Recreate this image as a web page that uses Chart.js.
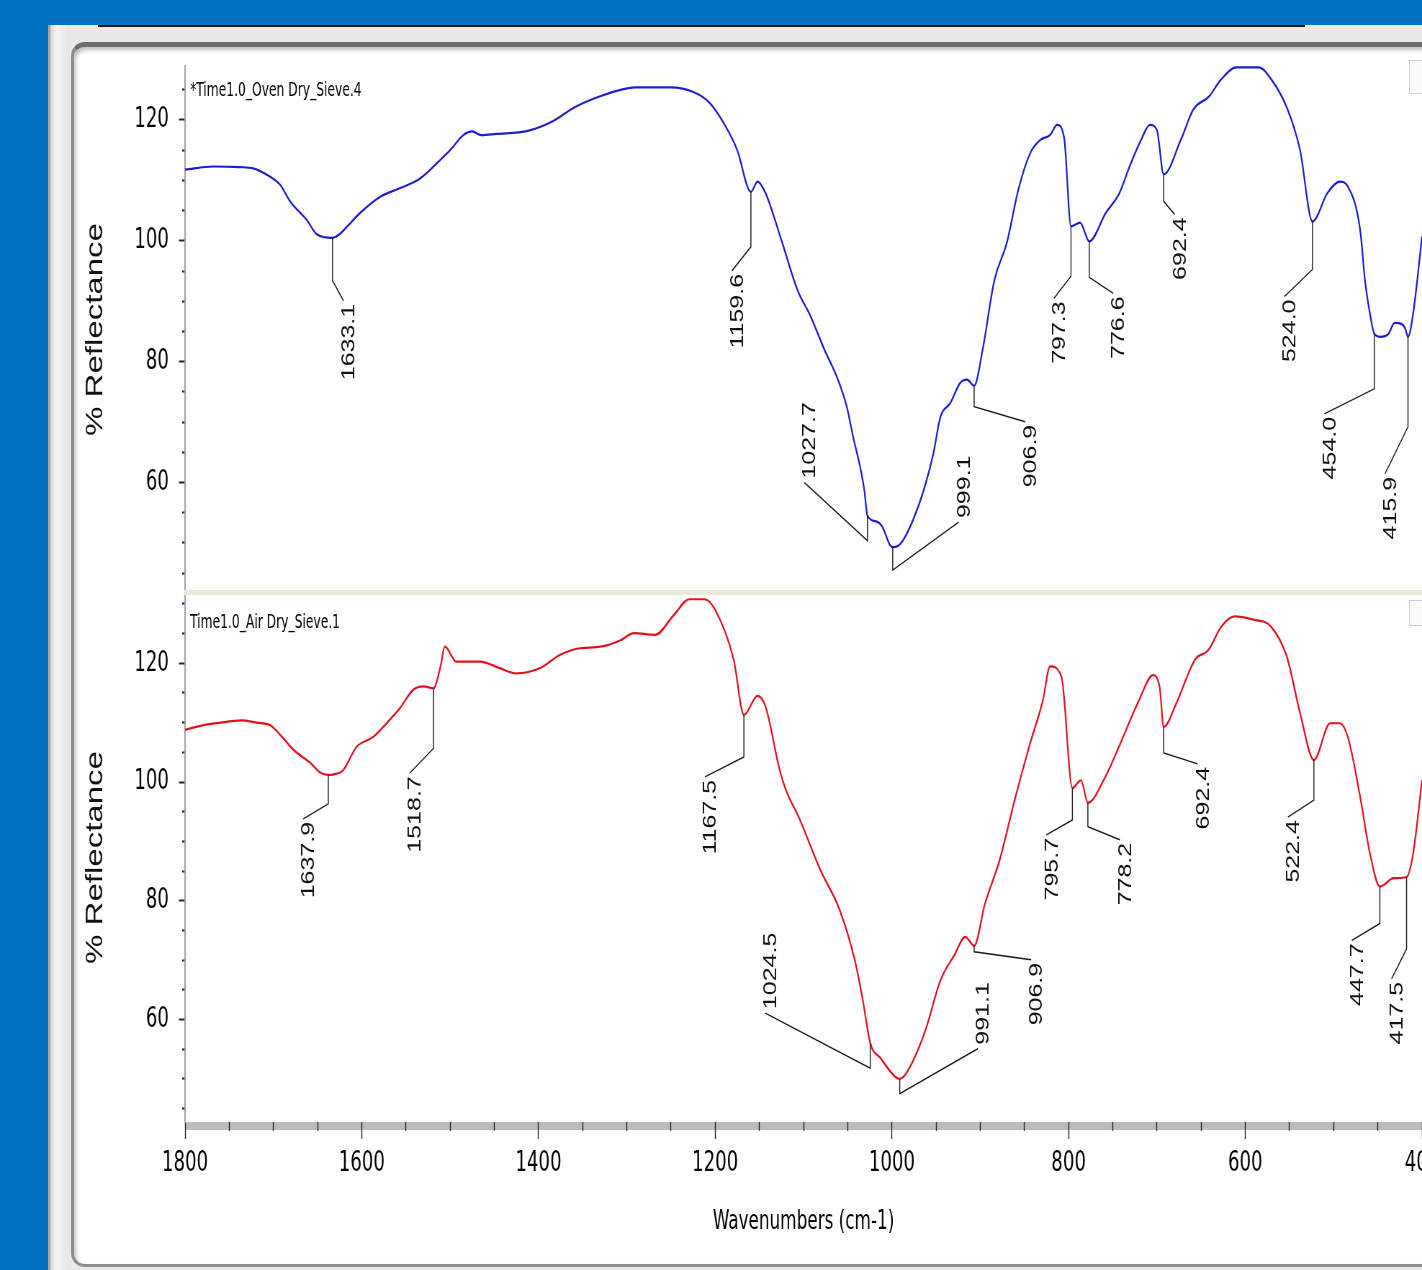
<!DOCTYPE html>
<html>
<head>
<meta charset="utf-8">
<title>Reflectance spectra</title>
<script src="https://cdn.jsdelivr.net/npm/chart.js@4.4.1/dist/chart.umd.min.js"></script>
<style>
  html, body { margin: 0; padding: 0; }
  body { width: 1422px; height: 1270px; overflow: hidden; background: #0070c0; position: relative; }
  .frame { position: absolute; left: 48px; top: 25px; width: 1420px; height: 1260px;
    background: linear-gradient(to right, #a3a3a3 0px, #a3a3a3 2px, #d9d9d9 3px, #f5f5f5 9px, #e6e6e6 20px, #e9e9e9 24px); }
  .topline { position: absolute; left: 98px; top: 25px; width: 1207px; height: 2px; background: #111; }
  .panel { position: absolute; left: 71px; top: 42px; width: 1420px; height: 1217px; background: #fff;
    border: 3px solid #8d8d8d; border-top: 5px solid #6c6c6c; border-radius: 14px 0 0 14px;
    box-shadow: inset 2px 3px 4px rgba(0,0,0,0.25); }
  .mini { position: absolute; left: 1409px; width: 20px; border: 1px solid #cfcfcf; background: #fbfbfb; }
  .wrap { position: absolute; left: 0; top: 30px; width: 2028px; height: 1220px;
    transform: scaleX(0.72); transform-origin: 0 0; }
</style>
</head>
<body>
<div class="frame"></div>
<div class="topline"></div>
<div class="panel"></div>
<div class="mini" style="top:60px;height:32px"></div>
<div class="mini" style="top:600px;height:24px"></div>
<div class="wrap"><canvas id="spec" width="2028" height="1220"></canvas></div>

<script>
/* ===== Datos: espectro superior (azul) ===== */
const nameTop = '*Time1.0_Oven Dry_Sieve.4';
const wnTop = [1800, 1768, 1738, 1723, 1707, 1692, 1681, 1662, 1651, 1633.1, 1626, 1617, 1602, 1579, 1557, 1534,
  1511, 1500, 1485, 1475, 1465, 1448, 1412, 1385, 1358, 1331, 1304, 1291, 1251, 1224, 1206, 1188, 1175, 1159.6,
  1152, 1143, 1125, 1107, 1092, 1077, 1061, 1051, 1044, 1036, 1031, 1027.7, 1017, 1011, 1002, 999.1, 994, 987,
  976, 964, 953, 945, 934, 923, 915, 906.9, 897, 884, 870, 857, 843.5, 832, 821, 813, 805, 797.3, 787, 776.6,
  758, 742.5, 731, 718, 708, 700, 692.4, 673, 659, 641, 628, 610, 585, 570, 552, 538, 524.0, 507, 493, 484,
  470, 464.6, 459, 454.0, 447, 438, 431, 423, 419, 415.9, 410, 400];
const reflTop = [111.8, 112.3, 112.2, 112.0, 110.9, 109.2, 106.5, 103.4, 101.1, 100.5, 101.0, 102.3, 104.6, 107.3, 108.7, 110.3,
  113.4, 115.0, 117.5, 118.1, 117.5, 117.7, 118.2, 119.7, 122.2, 123.9, 125.1, 125.4, 125.4, 124.6, 122.8, 118.9, 115.0, 108.1,
  109.8, 107.9, 100.1, 91.9, 87.5, 82.2, 77.0, 72.5, 67.6, 62.6, 58.5, 54.5, 53.5, 52.7, 49.6, 49.3, 49.4, 50.5,
  53.8, 58.7, 64.8, 70.9, 73.1, 76.4, 77.0, 76.0, 82.2, 93.5, 99.6, 108.4, 114.5, 116.7, 117.5, 119.2, 117.0, 102.4, 103.0, 99.9,
  104.6, 107.9, 112.3, 116.7, 119.2, 118.3, 111.0, 116.7, 121.7, 123.9, 126.6, 128.7, 128.7, 126.6, 121.7, 115.0, 103.2, 107.9, 109.8, 109.0,
  101.8, 93.5, 88.0, 84.6, 84.1, 84.6, 86.4, 86.2, 85.5, 84.1, 88.0, 100.7];
const peaksTop = [1633.1, 1159.6, 1027.7, 999.1, 906.9, 797.3, 776.6, 692.4, 524.0, 454.0, 415.9];

/* ===== Datos: espectro inferior (rojo) ===== */
const nameBot = 'Time1.0_Air Dry_Sieve.1';
const wnBot = [1800, 1779, 1760, 1736, 1719, 1704, 1692, 1677, 1658, 1647, 1637.9, 1632, 1621, 1606, 1587, 1572,
  1557, 1542, 1530, 1518.7, 1511, 1506, 1493, 1466, 1444, 1425, 1398, 1376, 1355, 1330, 1307, 1292, 1268, 1247,
  1229, 1212, 1200, 1179, 1167.5, 1152, 1143, 1127, 1120, 1104, 1081, 1059, 1042, 1033, 1024.5, 1013, 996, 991.1,
  987, 977, 962, 945, 929, 917, 906.9, 895, 878, 861, 844, 829, 821, 808, 795.7, 786, 778.2, 759, 742, 720,
  704.5, 697, 692.4, 678, 657, 642, 627, 612, 592, 571, 553, 538, 522.4, 504, 493, 484, 470, 459, 447.7, 432,
  417.5, 410, 400];
const reflBot = [108.8, 109.6, 110.0, 110.4, 110.0, 109.6, 107.9, 105.4, 103.2, 101.6, 101.2, 101.3, 102.0, 105.9, 107.6, 109.9,
  112.4, 115.5, 116.1, 115.8, 119.4, 122.8, 120.3, 120.3, 119.2, 118.3, 119.2, 121.4, 122.5, 122.8, 123.9, 125.1, 124.8, 128.1,
  130.8, 130.8, 129.0, 120.6, 111.3, 114.5, 112.7, 102.0, 98.7, 93.6, 85.2, 78.4, 70.0, 63.3, 56.0, 53.5, 50.3, 50.0,
  50.3, 52.7, 58.2, 66.6, 70.9, 73.9, 72.4, 79.3, 86.9, 97.0, 106.3, 113.8, 119.5, 117.7, 99.0, 100.3, 96.5, 100.7, 106.3, 113.9,
  118.0, 116.0, 109.3, 113.3, 120.6, 122.2, 126.2, 127.9, 127.4, 126.2, 121.1, 111.6, 103.7, 109.9, 109.9, 107.6, 97.5, 88.0, 82.4, 83.8,
  84.0, 88.0, 100.3];
const peaksBot = [1637.9, 1518.7, 1167.5, 1024.5, 991.1, 906.9, 795.7, 778.2, 692.4, 522.4, 447.7, 417.5];

/* ===== Ejes ===== */
const xRange = [400, 1800];
const xLabelVals = [1800, 1600, 1400, 1200, 1000, 800, 600, 400];
const yRangeTop = [41.69, 128.94];
const yRangeBot = [42.71, 131.85];
const yLabelVals = [60, 80, 100, 120];
const steps = (a, b, s) => { const out = []; for (let v = a; v <= b; v += s) out.push(v); return out; };
const xTickVals = steps(400, 1800, 50);
const yTickValsTop = steps(45, 125, 5);
const yTickValsBot = steps(45, 130, 5);

/* ===== Maquetado de las etiquetas de picos (px de pantalla) ===== */
// [largo vertical, dx, dy] del quiebre de la guía
const layoutTop = [[43, 11, 20], [55, -19, 24], [25, -63, -58], [23, 66, -48], [21, 51, 15], [50, -17, 22],
  [36, 24, 16], [27, 11, 13], [48, -28, 27], [55, -50, 25], [90, -23, 47]];
const layoutBot = [[29, -25, 15], [60, -24, 25], [42, -39, 20], [25, -105, -55], [15, 78, -45], [6, 57, 8],
  [32, -26, 15], [24, 32, 13], [26, 34, 11], [40, -26, 17], [37, -28, 17], [72, -15, 30]];

const SX = 0.72; // la imagen original esta comprimida a lo ancho
const NARROW = "'Liberation Sans Narrow', 'Arial Narrow', 'DejaVu Sans Condensed', sans-serif";
const SANS = "'Liberation Sans', Arial, sans-serif";

function valueAt(xs, ys, wn) {
  for (let i = 0; i < xs.length - 1; i++) {
    if (wn <= xs[i] && wn >= xs[i + 1]) {
      const t = (xs[i] - wn) / (xs[i] - xs[i + 1]);
      return ys[i] + t * (ys[i + 1] - ys[i]);
    }
  }
  return ys[ys.length - 1];
}

function drawPeaks(ctx, sx, sy, xs, ys, peaks, layout) {
  ctx.strokeStyle = '#1a1a1a';
  ctx.lineWidth = 1.4;
  ctx.fillStyle = '#111';
  ctx.font = `25px ${SANS}`;
  peaks.forEach((wn, i) => {
    const [knee, dx, dy] = layout[i];
    const px = sx.getPixelForValue(wn);
    const py = sy.getPixelForValue(valueAt(xs, ys, wn));
    const ky = py + knee;
    const ex = px + dx / SX, ey = ky + dy;
    ctx.beginPath();
    ctx.moveTo(px, py); ctx.lineTo(px, ky); ctx.lineTo(ex, ey);
    ctx.stroke();
    const up = dy < 0;
    ctx.save();
    ctx.translate(ex + 6 / SX, up ? ey - 4 : ey + 3);
    ctx.rotate(-Math.PI / 2);
    ctx.textAlign = up ? 'left' : 'right';
    ctx.textBaseline = 'middle';
    ctx.fillText(wn.toFixed(1), 0, 0);
    ctx.restore();
  });
}

const decor = {
  id: 'decor',
  beforeDraw(chart) {
    const {ctx, chartArea: a} = chart;
    ctx.save();
    ctx.fillStyle = '#bcbcbc';
    ctx.fillRect(a.left, a.bottom, a.right - a.left + 60, 8);
    ctx.restore();
  },
  beforeDatasetsDraw(chart) {
    const {ctx, chartArea: a, scales} = chart;
    ctx.save();
    ctx.fillStyle = '#ece9d8';
    ctx.fillRect(a.left - 2, scales.yT.bottom - 3, a.right - a.left + 60, 5);
    ctx.restore();
  },
  afterDatasetsDraw(chart) {
    const {ctx, chartArea: a, scales} = chart;
    ctx.save();
    drawPeaks(ctx, scales.x, scales.yT, wnTop, reflTop, peaksTop, layoutTop);
    drawPeaks(ctx, scales.x, scales.yB, wnBot, reflBot, peaksBot, layoutBot);
    ctx.fillStyle = '#000';
    ctx.font = `19px ${NARROW}`;
    ctx.textAlign = 'left';
    ctx.textBaseline = 'alphabetic';
    ctx.fillText(nameTop, a.left + 5 / SX, scales.yT.top + 30);
    ctx.fillText(nameBot, a.left + 5 / SX, scales.yB.top + 35);
    ctx.restore();
  }
};

function yAxis(range, tickVals, weight) {
  return {
    type: 'linear', position: 'left', stack: 'panels', stackWeight: weight,
    min: range[0], max: range[1],
    afterBuildTicks: s => { s.ticks = tickVals.map(v => ({value: v})); },
    afterFit: s => { s.width = 257; },
    ticks: {
      autoSkip: false, padding: 14, color: '#000', font: {family: NARROW, size: 28},
      callback: v => yLabelVals.includes(v) ? String(v) : ''
    },
    grid: {
      drawOnChartArea: false, tickLength: 8.5, tickWidth: 2, tickColor: '#222',
      tickBorderDash: c => (c.tick && yLabelVals.includes(c.tick.value)) ? [] : [0, 4.5, 3, 40]
    },
    border: {display: true, color: '#a0a0a0', width: 2},
    title: {display: true, text: '% Reflectance', color: '#111', font: {family: SANS, size: 33},
      padding: {top: 113, bottom: 0}}
  };
}

new Chart(document.getElementById('spec'), {
  type: 'line',
  data: {
    datasets: [
      { data: wnTop.map((x, i) => ({x, y: reflTop[i]})), yAxisID: 'yT', borderColor: '#1c1cd0',
        borderWidth: 2.2, pointRadius: 0, cubicInterpolationMode: 'monotone' },
      { data: wnBot.map((x, i) => ({x, y: reflBot[i]})), yAxisID: 'yB', borderColor: '#e3101d',
        borderWidth: 2.2, pointRadius: 0, cubicInterpolationMode: 'monotone' }
    ]
  },
  options: {
    responsive: false,
    animation: false,
    layout: {padding: {top: 36, right: 53, left: 0, bottom: 0}},
    plugins: {legend: {display: false}, tooltip: {enabled: false}},
    scales: {
      x: {
        type: 'linear', position: 'bottom', reverse: true, min: xRange[0], max: xRange[1],
        afterBuildTicks: s => { s.ticks = xTickVals.map(v => ({value: v})); },
        afterFit: s => { s.height = 128; },
        ticks: {
          autoSkip: false, maxRotation: 0, padding: 8, color: '#000', font: {family: NARROW, size: 28},
          callback: v => xLabelVals.includes(v) ? String(v) : ''
        },
        grid: {
          drawOnChartArea: false, tickLength: 17, tickWidth: 1.4, tickColor: '#222',
          tickBorderDash: c => (c.tick && xLabelVals.includes(c.tick.value)) ? [] : [9, 40]
        },
        border: {display: false},
        title: {display: true, text: 'Wavenumbers (cm-1)', color: '#000', font: {family: NARROW, size: 26},
          padding: {top: 0, bottom: 12}}
      },
      yB: yAxis(yRangeBot, yTickValsBot, 529),
      yT: yAxis(yRangeTop, yTickValsTop, 527)
    }
  },
  plugins: [decor]
});
</script>
</body>
</html>
